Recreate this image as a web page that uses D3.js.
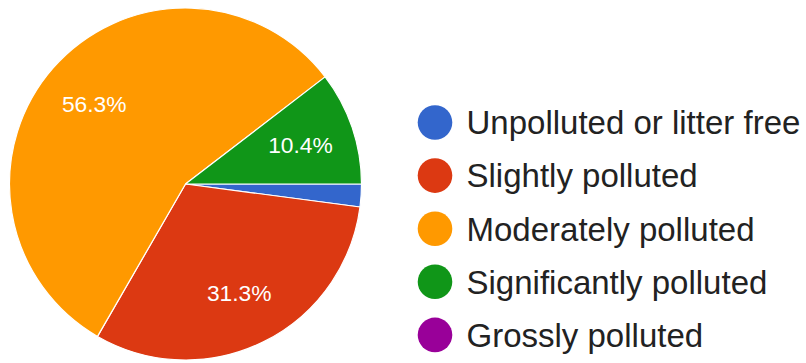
<!DOCTYPE html>
<html>
<head>
<meta charset="utf-8">
<script src="https://cdn.jsdelivr.net/npm/d3@7"></script>
<style>
  html, body { margin: 0; padding: 0; background: #ffffff; }
  svg { display: block; }
</style>
</head>
<body>
<svg id="chart" width="806" height="363"></svg>
<script>
// Survey responses: pollution level of the site
const categories = [
  "Unpolluted or litter free",
  "Slightly polluted",
  "Moderately polluted",
  "Significantly polluted",
  "Grossly polluted"
];
const counts = [1, 15, 27, 5, 0];
const colors = ["#3366cc", "#dc3912", "#ff9900", "#109618", "#990099"];

const svg = d3.select("#chart");
const cx = 185.5, cy = 184, radius = 176;
const total = d3.sum(counts);

const data = categories.map((c, i) => ({ name: c, value: counts[i], color: colors[i] }));

// Slices start at 3 o'clock and run clockwise
const pie = d3.pie()
  .value(d => d.value)
  .sort(null)
  .startAngle(Math.PI / 2)
  .endAngle(Math.PI / 2 + 2 * Math.PI);

const arcs = pie(data).filter(a => a.data.value > 0);
const arc = d3.arc().innerRadius(0).outerRadius(radius);
const labelArc = d3.arc().innerRadius(radius * 0.69).outerRadius(radius * 0.69);

const g = svg.append("g").attr("transform", `translate(${cx},${cy})`);

g.selectAll("path.slice")
  .data(arcs)
  .join("path")
  .attr("class", "slice")
  .attr("d", arc)
  .attr("fill", d => d.data.color)
  .attr("stroke", "#ffffff")
  .attr("stroke-width", 1.2)
  .attr("stroke-linejoin", "round");

// Percentage labels on slices large enough to hold them
const fmt = v => (v / total * 100).toFixed(1) + "%";
g.selectAll("text.pct")
  .data(arcs.filter(a => a.data.value / total >= 0.05))
  .join("text")
  .attr("class", "pct")
  .attr("x", d => labelArc.centroid(d)[0])
  .attr("y", d => labelArc.centroid(d)[1] + 8)
  .attr("text-anchor", "middle")
  .attr("font-family", "Arial, 'Liberation Sans', sans-serif")
  .attr("font-size", 22.8)
  .attr("fill", "#ffffff")
  .text(d => fmt(d.data.value));

// Legend
const legendX = 435, legendY0 = 122.5, legendStep = 53.1;
const legend = svg.append("g");
const rows = legend.selectAll("g.row")
  .data(data)
  .join("g")
  .attr("class", "row")
  .attr("transform", (d, i) => `translate(${legendX},${legendY0 + i * legendStep})`);

rows.append("circle")
  .attr("r", 17.3)
  .attr("fill", d => d.color);

rows.append("text")
  .attr("x", 31.5)
  .attr("y", 11.8)
  .attr("font-family", "Arial, 'Liberation Sans', sans-serif")
  .attr("font-size", 33)
  .attr("fill", "#222222")
  .text(d => d.name);
</script>
</body>
</html>
